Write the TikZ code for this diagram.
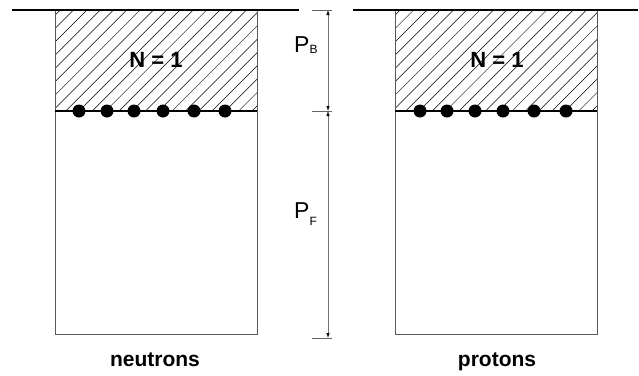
\documentclass[tikz,border=0pt]{standalone}
\usepackage{fontspec}
\setmainfont{Liberation Sans}
\usetikzlibrary{arrows.meta}
\begin{document}
\begin{tikzpicture}[x=1pt,y=-1pt,
  wall/.style={draw=black!65, line width=0.9pt},
  level/.style={draw=black, line width=1.2pt},
  hatchline/.style={draw=black, line width=0.5pt},
  particle/.style={circle, fill=black, inner sep=0pt, minimum size=13pt},
  dimarrow/.style={draw=black!55, line width=0.7pt,
    {Latex[length=5pt,width=3.5pt,black]}-{Latex[length=5pt,width=3.5pt,black]}},
  dimtick/.style={draw=black!60, line width=0.9pt},
  boxlabel/.style={font=\bfseries\fontsize{21}{24}\selectfont, inner sep=0pt, anchor=base},
  statelabel/.style={font=\bfseries\fontsize{22}{26}\selectfont, inner sep=0pt},
  momlabel/.style={font=\fontsize{23}{26}\selectfont, inner sep=0pt, anchor=base west}
]
\useasboundingbox (0,0) rectangle (639,375);

% two potential wells: hatched bound region above the Fermi level
\foreach \name/\xl/\xr in {n/55/257, p/395/597} {
  \begin{scope}
    \clip (\xl,10) rectangle (\xr,111);
    \foreach \k in {0,...,24}
      \draw[hatchline] ({\xl-8+\k*13.3-101},111) -- ({\xl-8+\k*13.3},10);
  \end{scope}
  \coordinate (\name tl) at (\xl,10);
  \coordinate (\name bl) at (\xl,334);
  \coordinate (\name br) at (\xr,334);
  \coordinate (\name tr) at (\xr,10);
  \coordinate (\name fl) at (\xl,111);
  \coordinate (\name fr) at (\xr,111);
  \draw[wall] (\name tl) -- (\name bl) -- (\name br) -- (\name tr);
  \draw[level] (\name fl) -- (\name fr);
}

% surface (zero-energy) line
\coordinate (s0) at (12,10);
\coordinate (s1) at (299,10);
\coordinate (s2) at (353,10);
\coordinate (s3) at (638,10);
\draw[level] (s0) -- (s1);
\draw[level] (s2) -- (s3);

% nucleons sitting at the Fermi level
\foreach \x [count=\i] in {79,107,134,163,194,225}
  \node[particle] (n\i) at (\x,111) {};
\foreach \x [count=\i] in {420,447,475,503,534,566}
  \node[particle] (p\i) at (\x,111) {};

% well labels
\node[statelabel] (nN) at (156,60) {N = 1};
\node[statelabel] (pN) at (497,60) {N = 1};
\node[boxlabel] (nlab) at (155,366) {neutrons};
\node[boxlabel] (plab) at (497,366) {protons};

% dimension marks for binding and Fermi momenta
\coordinate (t0l) at (312,10);  \coordinate (t0r) at (332,10);
\coordinate (t1l) at (312,111); \coordinate (t1r) at (332,111);
\coordinate (t2l) at (312,338); \coordinate (t2r) at (332,338);
\coordinate (a0) at (328,10);
\coordinate (a1) at (328,111);
\coordinate (a2) at (328,338);
\draw[dimtick] (t0l) -- (t0r);
\draw[dimtick] (t1l) -- (t1r);
\draw[dimtick] (t2l) -- (t2r);
\draw[dimarrow] (a0) -- (a1);
\draw[dimarrow] (a1) -- (a2);

\node[momlabel] (pb) at (294,52) {P\raisebox{-1pt}{\fontsize{12}{14}\selectfont B}};
\node[momlabel] (pf) at (294,218) {P\raisebox{-7pt}{\fontsize{12}{14}\selectfont F}};
\end{tikzpicture}
\end{document}
